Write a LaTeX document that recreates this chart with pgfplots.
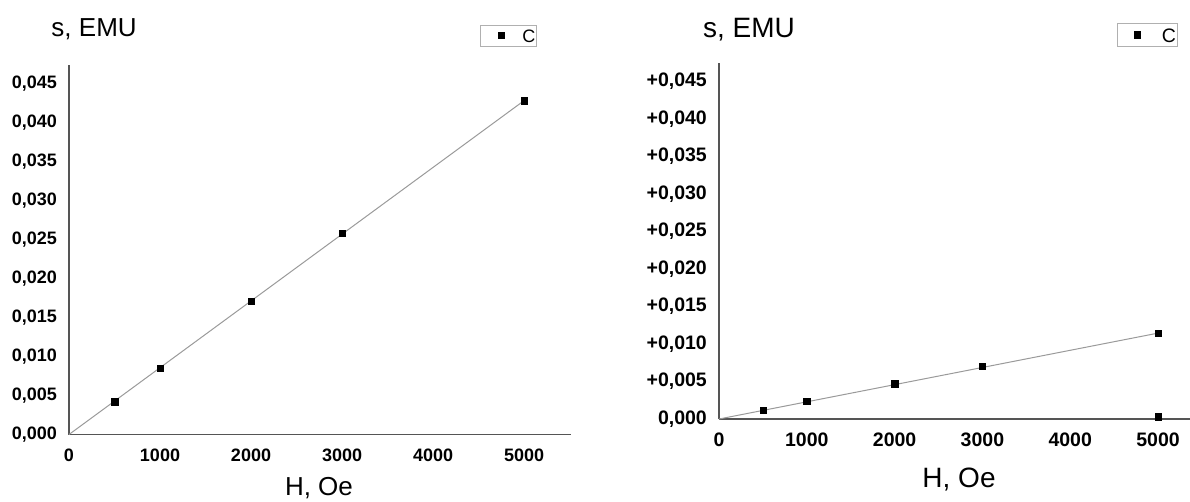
\documentclass[border=0pt]{standalone}
\usepackage{fontspec}
\setmainfont{Liberation Sans}
\usepackage{pgfplots}
\pgfplotsset{compat=1.18}
\definecolor{axisgray}{HTML}{555555}
\definecolor{linegray}{HTML}{9A9A9A}
\definecolor{legendgray}{HTML}{B0B0B0}

\pgfplotsset{
  myaxis/.style={
    scale only axis,
    axis x line*=bottom, axis y line*=left,
    axis line style={-, draw=axisgray, line width=1.8pt},
    major tick length=0pt, tick style={draw=none},
    clip=false,
    scaled x ticks=false, scaled y ticks=false,
    xmin=0, ymin=0,
    xtick={0,1000,2000,3000,4000,5000},
    xticklabels={0,1000,2000,3000,4000,5000},
    ytick={0,0.005,0.01,0.015,0.02,0.025,0.03,0.035,0.04,0.045},
    xticklabel style={anchor=north, inner sep=0pt, yshift=-14pt},
    yticklabel style={anchor=east, inner sep=0pt, xshift=-12pt},
  },
}

\begin{document}
\begin{tikzpicture}[x=1pt,y=1pt]
\useasboundingbox (0,0) rectangle (1190,501);

% ---------- left panel ----------
\begin{axis}[myaxis,
  at={(69pt,66.5pt)}, anchor=south west,
  width=502pt, height=369.5pt,
  xmax=5516, ymax=0.04737,
  yticklabels={{0,000},{0,005},{0,010},{0,015},{0,020},{0,025},{0,030},{0,035},{0,040},{0,045}},
  ticklabel style={font=\bfseries\fontsize{18}{18}\selectfont},
  xlabel={H, Oe}, ylabel={s, EMU},
  every axis x label/.style={at={(axis description cs:0.498,-0.145)}, anchor=center, font=\fontsize{26}{26}\selectfont},
  every axis y label/.style={at={(axis description cs:0.050,1.0975)}, anchor=center, font=\fontsize{26}{26}\selectfont},
  legend image code/.code={\path[draw=none, fill=none] (0pt,-3pt) rectangle (23.5pt,3pt);
     \path[draw=none, fill=none] plot[only marks, mark=square*, mark size=3.2pt, mark options={draw=black, fill=black}] coordinates {(19.5pt,0pt)};},
  legend style={at={(axis description cs:0.8755,1.0798)}, anchor=center,
     draw=legendgray, line width=0.9pt, inner xsep=1pt, inner ysep=4pt,
     font=\fontsize{18}{18}\selectfont,
     nodes={inner sep=0pt, text height=13pt, text depth=0pt},
     /tikz/every odd column/.append style={column sep=17pt}},
]
\addplot[linegray, line width=1pt, forget plot] coordinates {(0,0) (5000,0.0428)};
\addplot[only marks, mark=square*, mark size=3.2pt, black] coordinates {
  (500,0.0042) (1000,0.0085) (2000,0.0171) (3000,0.0258) (5000,0.0428)};
\addlegendentry{C}
\end{axis}

% ---------- right panel ----------
\begin{axis}[myaxis,
  at={(719pt,82pt)}, anchor=south west,
  width=471pt, height=356.3pt,
  xmax=5364, ymax=0.0475,
  yticklabels={{0,000},{+0,005},{+0,010},{+0,015},{+0,020},{+0,025},{+0,030},{+0,035},{+0,040},{+0,045}},
  ticklabel style={font=\bfseries\fontsize{19.5}{19.5}\selectfont},
  xlabel={H, Oe}, ylabel={s, EMU},
  every axis x label/.style={at={(axis description cs:0.5096,-0.171)}, anchor=center, font=\fontsize{28}{28}\selectfont},
  every axis y label/.style={at={(axis description cs:0.0637,1.0918)}, anchor=center, font=\fontsize{28}{28}\selectfont},
  legend image code/.code={\path[draw=none, fill=none] (0pt,-3pt) rectangle (24pt,3pt);
     \path[draw=none, fill=none] plot[only marks, mark=square*, mark size=3.2pt, mark options={draw=black, fill=black}] coordinates {(19.7pt,0pt)};},
  legend style={at={(axis description cs:0.9087,1.0777)}, anchor=center,
     draw=legendgray, line width=0.9pt, inner xsep=1pt, inner ysep=4.5pt,
     font=\fontsize{19.5}{19.5}\selectfont,
     nodes={inner sep=0pt, text height=14pt, text depth=0pt},
     /tikz/every odd column/.append style={column sep=20pt}},
]
\addplot[linegray, line width=1pt, forget plot] coordinates {(0,0) (5000,0.01145)};
\addplot[only marks, mark=square*, mark size=3.2pt, black] coordinates {
  (500,0.0012) (1000,0.0024) (2000,0.0047) (3000,0.0070) (5000,0.01145) (5000,0.0003)};
\addlegendentry{C}
\end{axis}
\end{tikzpicture}
\end{document}
